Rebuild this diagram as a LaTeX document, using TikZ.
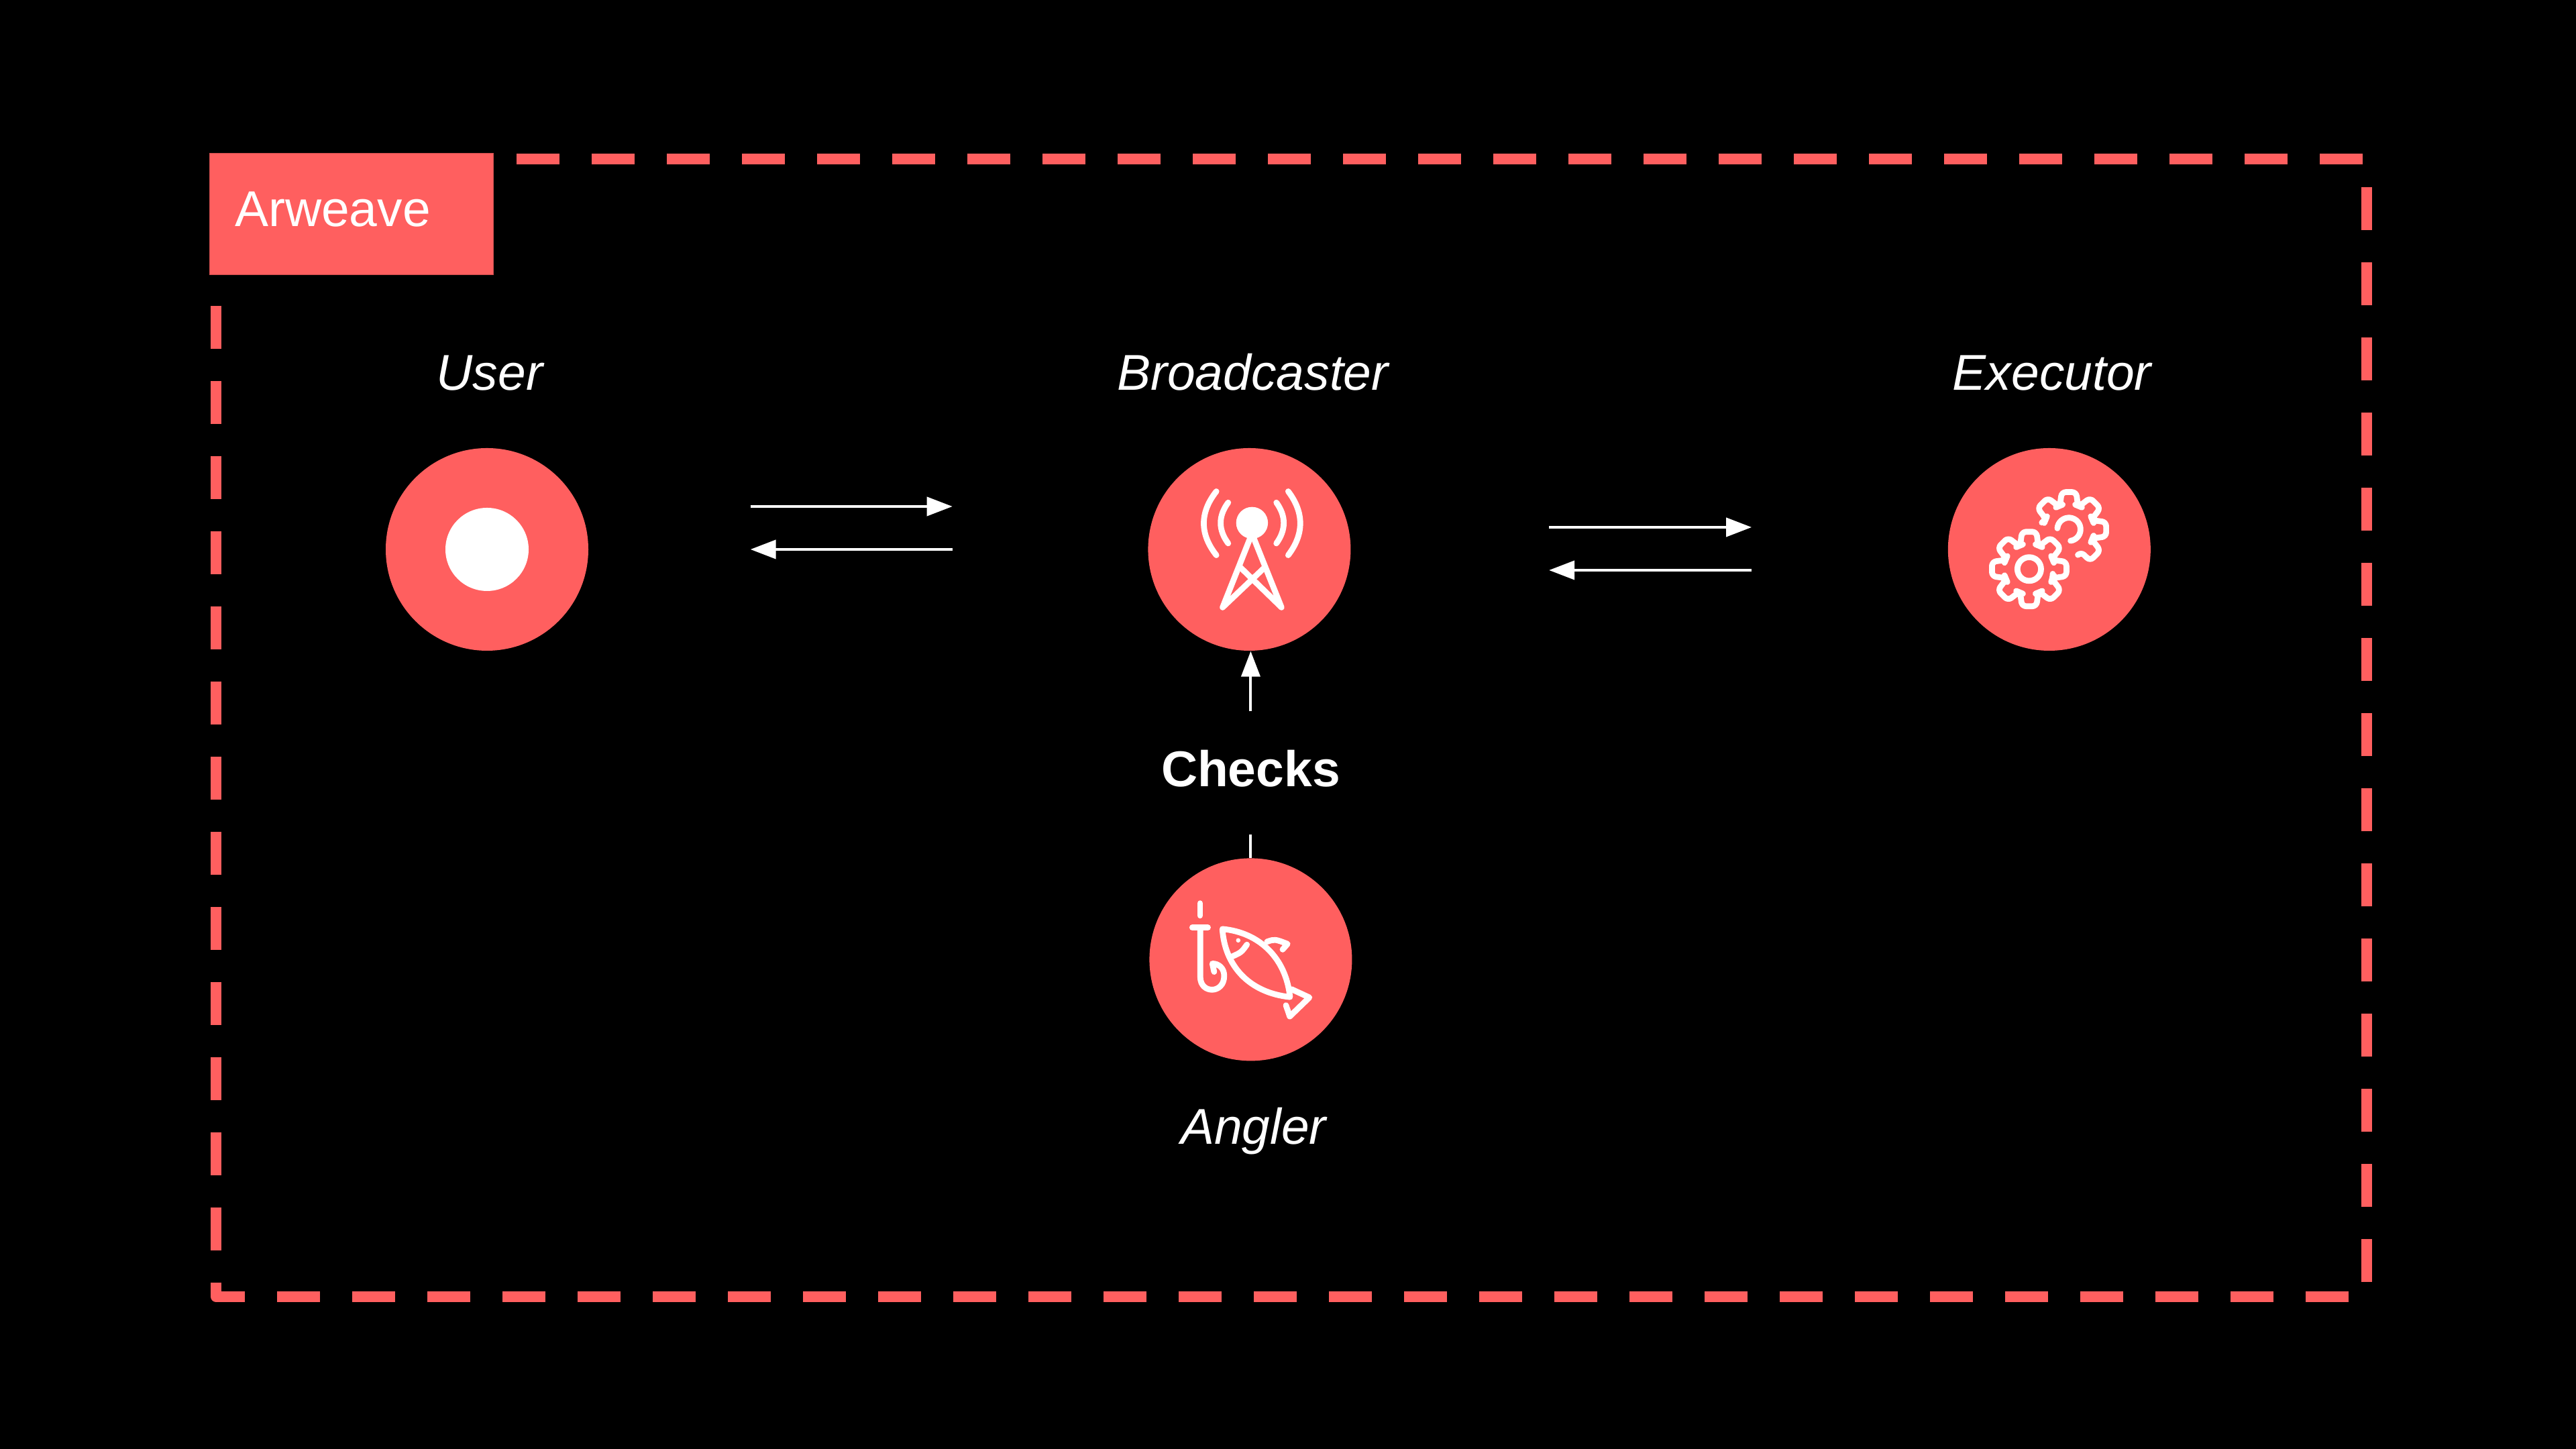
\documentclass[tikz,border=0pt]{standalone}
\usepackage{fontspec}
\setmainfont{Liberation Sans}
\usepackage{tikz}
\usetikzlibrary{
  arrows.meta,
  positioning,
}
\definecolor{arred}{HTML}{FF5F5F}

\begin{document}
\begin{tikzpicture}[
  font=\fontsize{21.34}{25}\selectfont,
  frame/.style={draw=arred, line width=0.16cm, line join=round, dash pattern=on 0.64cm off 0.48cm},
  role/.style={circle, fill=arred, minimum size=3.02cm, inner sep=0pt},
  who/.style={text=white, font=\fontsize{21.34}{25}\selectfont\itshape, inner sep=0pt, text height=0.54cm, text depth=0pt},
  flow/.style={draw=white, line width=0.04cm, -{Triangle[length=0.38cm,width=0.28cm]}},
  icon/.style={draw=white, line width=0.087cm, line cap=round, line join=round},
  zoomed/.style={x=0.003333cm, y=-0.003333cm},
  plain/.style={x=0.003333cm, y=0.003333cm},
]
  \fill[black] (0,0) rectangle (38.4,21.6);
  \useasboundingbox (0,0) rectangle (38.4,21.6);

  % Dashed frame and its tab
  \draw[frame] (3.22,17.04) -- (3.22,2.273) -- (35.277,2.273) -- (35.277,19.23) -- (7.70,19.23);
  \node[fill=arred, draw=arred!80!black, line width=0.01cm, anchor=north west, text=white,
        text width=3.47cm, align=left, inner xsep=0.38cm, inner ysep=0pt,
        text height=1.09cm, text depth=0.72cm] (arweave) at (3.115,19.32) {Arweave};

  % Role circles
  \node[role] (user) at (7.26,13.41) {};
  \node[role, right=8.33cm of user] (broadcaster) {};
  \node[role, right=8.89cm of broadcaster] (executor) {};
  \node[role, below=3.08cm of broadcaster, xshift=0.02cm] (angler) {};
  \node[circle, fill=white, minimum size=1.24cm, inner sep=0pt] (userdot) at (user.center) {};

  % Role names
  \node[who, above=0.85cm of user, xshift=0.04cm] (userlabel) {User};
  \node[who, above=0.85cm of broadcaster, xshift=0.05cm] (broadcasterlabel) {Broadcaster};
  \node[who, above=0.85cm of executor, xshift=0.04cm] (executorlabel) {Executor};
  \node[who, below=0.69cm of angler, xshift=0.04cm] (anglerlabel) {Angler};
  \node[above=0.35cm of angler, inner sep=0pt, text=white, font=\fontsize{21.34}{25}\selectfont\bfseries,
        text height=1.12cm, text depth=0.70cm] (checks) {Checks};

  % Connectors
  \draw[flow] ([shift={(2.41,0.64)}]user.east) -- ([shift={(-2.91,0.64)}]broadcaster.west);
  \draw[flow] ([shift={(-2.91,0)}]broadcaster.west) -- ([shift={(2.41,0)}]user.east);
  \draw[flow] ([shift={(2.95,0.33)}]broadcaster.east) -- ([shift={(-2.92,0.33)}]executor.west);
  \draw[flow] ([shift={(-2.92,-0.31)}]executor.west) -- ([shift={(2.95,-0.31)}]broadcaster.east);
  \draw[flow] (checks.north) -- (checks.north |- broadcaster.south);
  \draw[white, line width=0.04cm] (checks.south) -- (angler.north);

  % Mast icon
  \begin{scope}[zoomed, shift={(broadcaster.center)}, shift={(-636,-537)}]
    \fill[white] (648,418) circle[radius=0.237cm];
    \draw[icon] (488,277) .. controls (413,372) and (413,468) .. (488,563);
    \draw[icon] (810,277) .. controls (882,372) and (882,468) .. (810,563);
    \draw[icon] (541,327) .. controls (496,388) and (496,449) .. (541,510);
    \draw[icon] (757,327) .. controls (801,388) and (801,449) .. (757,510);
    \draw[icon] (640,485) -- (516,797) -- (700,622);
    \draw[icon] (655,485) -- (780,797) -- (595,617);
  \end{scope}

  % Gear icon
  \begin{scope}[plain, shift={(executor.center)}, shift={(-90,-88)}]
    \draw[icon, rounded corners=1.8pt] (-21:113)
      \foreach \a in {0,45,...,315}{ -- (\a-11:170) -- (\a+11:170) -- (\a+21:113) -- (\a+24:113)} -- cycle;
    \draw[icon] (0,0) circle[radius=53];
  \end{scope}
  \begin{scope}[plain, shift={(executor.center)}, shift={(88,90)}]
    \draw[icon, rounded corners=1.8pt] (-70:121) -- (-62:115)
      \foreach \a in {-45,0,45,90,135}{ -- (\a-11:170) -- (\a+11:170) -- (\a+21:113) -- (\a+24:113)} -- (161:116);
    \draw[icon] (175:52) arc[start angle=175, end angle=-82, radius=52];
  \end{scope}

  % Hook and fish icon
  \begin{scope}[zoomed, shift={(angler.center)}, shift={(-522,-567)}]
    \draw[icon] (295,315) -- (295,370);
    \draw[icon] (260,424) -- (330,424);
    \draw[icon] (296,424) -- (296,645) .. controls (296,722) and (403,722) .. (403,640)
      .. controls (403,605) and (378,585) .. (350,585) -- (358,622);
    \draw[icon] (395,430) .. controls (560,445) and (680,560) .. (698,735)
      .. controls (510,715) and (405,590) .. cycle;
    \draw[icon] (505,500) .. controls (480,535) .. (435,555);
    \fill[white] (466,481) circle[radius=0.033cm];
    \draw[icon] (595,487) .. controls (630,475) .. (687,497) -- (665,522);
    \draw[icon] (705,700) -- (785,737) -- (697,822) -- (680,772);
  \end{scope}
\end{tikzpicture}
\end{document}
